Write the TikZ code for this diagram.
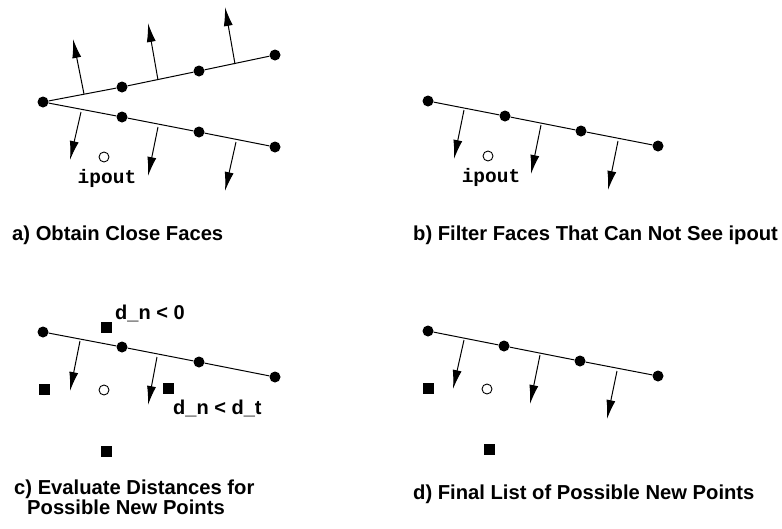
\documentclass[tikz,border=0pt]{standalone}
\usepackage{fontspec}
\usetikzlibrary{arrows.meta}
\newfontfamily\capfont{Liberation Sans}
\newfontfamily\cofont{Liberation Mono}
\begin{document}
\begin{tikzpicture}[x=1pt,y=-1pt,
  dot/.style={circle,fill=black,inner sep=0pt,minimum size=11pt},
  hole/.style={circle,draw=black,line width=0.9pt,fill=white,inner sep=0pt,minimum size=10pt},
  sq/.style={rectangle,fill=black,inner sep=0pt,minimum size=11pt},
  face/.style={line width=1pt},
  normal/.style={line width=1pt,-{Latex[length=19pt,width=9pt]}},
  captext/.style={font=\capfont\bfseries\fontsize{20.2}{15.5}\selectfont,inner sep=0pt,anchor=base west},
  lbltext/.style={font=\capfont\bfseries\fontsize{20}{20}\selectfont,inner sep=0pt,anchor=base west},
  codetext/.style={font=\cofont\bfseries\fontsize{19.5}{20}\selectfont,inner sep=0pt,anchor=base}]
\fill[white] (0,0) rectangle (782,528);
\useasboundingbox (0,0) rectangle (782,528);

% ---------- panel a ----------
\node[dot] (a0) at (43,102) {};
\node[dot] (a1) at (122,87) {};
\node[dot] (a2) at (199,71) {};
\node[dot] (a3) at (275,55) {};
\node[dot] (a4) at (122,117) {};
\node[dot] (a5) at (199,132) {};
\node[dot] (a6) at (275,147) {};
\draw[face] (a0) -- (a1) -- (a2) -- (a3);
\draw[face] (a0) -- (a4) -- (a5) -- (a6);
\coordinate (au1s) at (84,94);   \coordinate (au1e) at (73,39);
\coordinate (au2s) at (158,80);  \coordinate (au2e) at (148,23);
\coordinate (au3s) at (235,64);  \coordinate (au3e) at (225,7);
\coordinate (al1s) at (81,112);  \coordinate (al1e) at (70,160);
\coordinate (al2s) at (158,127); \coordinate (al2e) at (148,176);
\coordinate (al3s) at (236,142); \coordinate (al3e) at (225,191);
\draw[normal] (au1s) -- (au1e);
\draw[normal] (au2s) -- (au2e);
\draw[normal] (au3s) -- (au3e);
\draw[normal] (al1s) -- (al1e);
\draw[normal] (al2s) -- (al2e);
\draw[normal] (al3s) -- (al3e);
\node[hole] (ah) at (104,157) {};
\node[codetext] (aip) at (107,183) {ipout};
\node[captext] (acap) at (12,240) {a) Obtain Close Faces};

% ---------- panel b ----------
\node[dot] (b0) at (428,101) {};
\node[dot] (b1) at (505,116) {};
\node[dot] (b2) at (581,131) {};
\node[dot] (b3) at (658,146) {};
\draw[face] (b0) -- (b1) -- (b2) -- (b3);
\coordinate (b1s) at (464,110); \coordinate (b1e) at (454,159);
\coordinate (b2s) at (541,125); \coordinate (b2e) at (531,174);
\coordinate (b3s) at (618,141); \coordinate (b3e) at (608,190);
\draw[normal] (b1s) -- (b1e);
\draw[normal] (b2s) -- (b2e);
\draw[normal] (b3s) -- (b3e);
\node[hole] (bh) at (488,156) {};
\node[codetext] (bip) at (491,182) {ipout};
\node[captext] (bcap) at (413,240) {b) Filter Faces That Can Not See ipout};

% ---------- panel c ----------
\node[dot] (c0) at (43,332) {};
\node[dot] (c1) at (122,347) {};
\node[dot] (c2) at (199,362) {};
\node[dot] (c3) at (275,377) {};
\draw[face] (c0) -- (c1) -- (c2) -- (c3);
\coordinate (c1s) at (80,341);  \coordinate (c1e) at (70,391);
\coordinate (c2s) at (157,357); \coordinate (c2e) at (148,405);
\draw[normal] (c1s) -- (c1e);
\draw[normal] (c2s) -- (c2e);
\node[sq] (cs1) at (106,327) {};
\node[sq] (cs2) at (44,389) {};
\node[sq] (cs3) at (168,388) {};
\node[sq] (cs4) at (106,451) {};
\node[hole] (ch) at (104,390) {};
\node[lbltext] (cl1) at (115,319) {d\_n < 0};
\node[lbltext] (cl2) at (173,414) {d\_n < d\_t};
\node[captext,align=left] (ccap) at (14,514.5) {c) Evaluate Distances for\\\hspace*{13pt}Possible New Points};

% ---------- panel d ----------
\node[dot] (d0) at (428,331) {};
\node[dot] (d1) at (504,346) {};
\node[dot] (d2) at (580,361) {};
\node[dot] (d3) at (658,376) {};
\draw[face] (d0) -- (d1) -- (d2) -- (d3);
\coordinate (d1s) at (464,340); \coordinate (d1e) at (453,389);
\coordinate (d2s) at (540,355); \coordinate (d2e) at (530,404);
\coordinate (d3s) at (617,371); \coordinate (d3e) at (607,419);
\draw[normal] (d1s) -- (d1e);
\draw[normal] (d2s) -- (d2e);
\draw[normal] (d3s) -- (d3e);
\node[sq] (ds1) at (428,388) {};
\node[sq] (ds2) at (489,449) {};
\node[hole] (dh) at (487,389) {};
\node[captext] (dcap) at (413,499) {d) Final List of Possible New Points};
\end{tikzpicture}
\end{document}
